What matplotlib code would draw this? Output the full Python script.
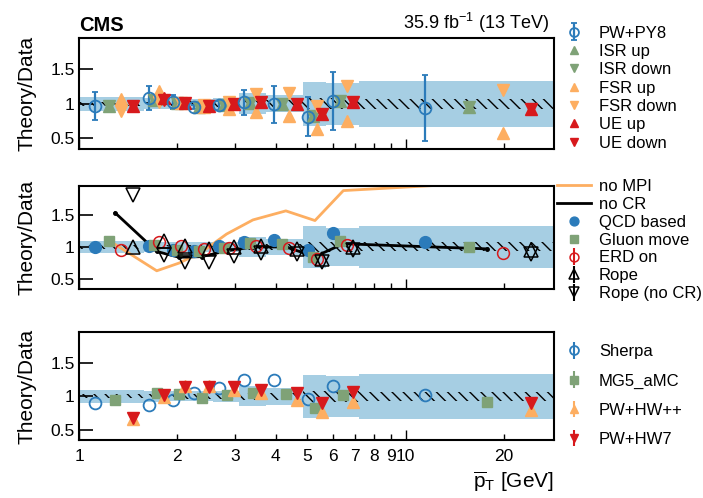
import numpy as np
import matplotlib
matplotlib.use("Agg")
import matplotlib.pyplot as plt
from matplotlib.ticker import FixedLocator, NullFormatter, FixedFormatter

plt.rcParams['font.family'] = ['Liberation Sans', 'DejaVu Sans']
plt.rcParams['mathtext.fontset'] = 'custom'
plt.rcParams['mathtext.rm'] = 'Liberation Sans'
plt.rcParams['mathtext.it'] = 'Liberation Sans:italic'
plt.rcParams['hatch.linewidth'] = 1.0

# bins of average pT [GeV]
edges = [1.0, 1.58, 1.88, 2.17, 2.58, 3.08, 3.74, 4.86, 5.7, 7.2, 28.4]
syst = [0.10, 0.08, 0.075, 0.075, 0.08, 0.15, 0.125, 0.32, 0.30, 0.33]
stat = [0.03, 0.03, 0.035, 0.035, 0.04, 0.05, 0.05, 0.08, 0.08, 0.07]

# top panel
pwpy8 = [0.966, 1.085, 1.02, 0.957, 0.976, 1.02, 0.99, 0.815, 1.04, 0.94]
pwpy8_err = [0.20, 0.17, 0.10, 0.03, 0.06, 0.185, 0.27, 0.28, 0.42, 0.48]
isr_up = [0.97, 1.06, 1.015, 0.957, 0.98, 1.015, 1.0, 0.82, 1.04, 0.955]
isr_down = [0.97, 1.06, 1.015, 0.957, 0.98, 1.015, 1.0, 0.82, 1.04, 0.955]
fsr_up = [1.065, 1.19, 1.015, 0.96, 0.93, 0.875, 0.824, 0.64, 0.75, 0.585]
fsr_down = [0.895, 1.02, 1.015, 0.98, 1.03, 1.14, 1.157, 0.975, 1.26, 1.20]
ue_up = [0.965, 1.08, 1.015, 0.965, 0.99, 1.02, 0.99, 0.85, 1.02, 0.93]
ue_down = [0.965, 1.05, 1.015, 0.965, 0.99, 1.02, 0.99, 0.85, 1.02, 0.93]

# middle panel
nompi = [1.04, 0.63, 0.75, 0.92, 1.2, 1.42, 1.56, 1.41, 1.875, 2.0]
nocr = [1.53, 0.93, 0.84, 0.85, 0.94, 1.0, 1.0, 0.85, 1.05, 0.97]
qcd = [1.0, 1.02, 0.96, 0.94, 1.01, 1.08, 1.11, 0.95, 1.22, 1.08]
gluon = [1.10, 1.03, 0.95, 0.945, 0.99, 1.06, 1.05, 0.85, 1.09, 0.995]
erd = [0.96, 1.08, 1.02, 0.975, 0.99, 1.02, 0.985, 0.81, 1.03, 0.91]
rope = [1.0, 1.09, 1.01, 0.97, 1.0, 1.02, 0.97, 0.82, 1.0, 0.95]
rope_nocr = [1.81, 0.87, 0.76, 0.77, 0.86, 0.9, 0.89, 0.77, 0.96, 0.89]

# bottom panel
sherpa = [0.90, 0.87, 0.94, 1.05, 1.13, 1.245, 1.235, 0.955, 1.15, 1.027]
mg5 = [0.945, 1.05, 1.03, 0.98, 1.02, 1.05, 1.04, 0.825, 1.02, 0.92]
hwpp = [0.66, 0.99, 1.15, 1.16, 1.10, 1.045, 0.945, 0.775, 0.92, 0.80]
hw7 = [0.68, 1.02, 1.14, 1.14, 1.14, 1.10, 1.05, 0.905, 1.065, 0.90]

xticks_minor = [2, 3, 4, 5, 6, 7, 8, 9, 20]

BLUE = '#2b7bba'
BAND = '#a6cee3'
GREEN = '#7fa277'
ORANGE = '#fdae61'
RED = '#d7191c'

lo = np.array(edges[:-1])
w = np.diff(edges)


def pos(k):
    # marker positions inside each bin, spread linearly
    return lo + k * w / 5.0


def banda(ax):
    e = np.array(edges)
    s = np.append(syst, syst[-1])
    st = np.append(stat, stat[-1])
    ax.fill_between(e, 1 - s, 1 + s, step='post', color=BAND, lw=0, zorder=0)
    ax.fill_between(e, 1 - st, 1 + st, step='post', facecolor='none',
                    edgecolor='black', hatch='\\\\\\', lw=0, zorder=1)


def ejes(ax, etiquetas=False):
    ax.set_xscale('log')
    ax.set_xlim(1.0, 28.4)
    ax.set_ylim(0.35, 1.95)
    ax.xaxis.set_major_locator(FixedLocator([1, 10]))
    ax.xaxis.set_minor_locator(FixedLocator(xticks_minor))
    if etiquetas:
        ax.xaxis.set_major_formatter(FixedFormatter(['1', '10']))
        ax.xaxis.set_minor_formatter(FixedFormatter([str(v) for v in xticks_minor]))
    else:
        ax.xaxis.set_major_formatter(NullFormatter())
        ax.xaxis.set_minor_formatter(NullFormatter())
    ax.set_yticks([0.5, 1, 1.5])
    ax.set_yticklabels(['0.5', '1', '1.5'])
    ax.tick_params(axis='y', which='major', direction='in', length=10, width=1.2, labelsize=12.5, pad=3)
    ax.tick_params(axis='x', which='major', direction='in', length=7, width=1, labelsize=12.5, pad=6)
    ax.tick_params(axis='x', which='minor', direction='in', length=4, width=1, labelsize=12.5, pad=6)
    for sp in ax.spines.values():
        sp.set_linewidth(1.5)
    ax.set_ylabel('Theory/Data', fontsize=15, labelpad=10)
    banda(ax)


def leyenda(ax, y, sep, orden=None):
    h, l = ax.get_legend_handles_labels()
    if orden is not None:
        h = [h[i] for i in orden]
        l = [l[i] for i in orden]
    ax.legend(h, l, loc='upper left', bbox_to_anchor=(0.994, y), frameon=False, fontsize=12,
              labelspacing=sep, handlelength=2.0, handletextpad=0.5, borderaxespad=0,
              markerscale=0.75)


fig = plt.figure(figsize=(7.03, 4.98), dpi=100)
ax1 = fig.add_axes([0.1124, 0.701, 0.675, 0.223])
ax2 = fig.add_axes([0.1124, 0.420, 0.675, 0.207])
ax3 = fig.add_axes([0.1124, 0.116, 0.675, 0.217])

ms = 8.5

# top
ejes(ax1)
ax1.errorbar(pos(1), pwpy8, yerr=pwpy8_err, fmt='o', color=BLUE, mfc='none', mew=1.3,
             ms=ms, elinewidth=1.6, capsize=2.5, capthick=1.6, label='PW+PY8', zorder=3)
ax1.plot(pos(2), isr_up, '^', color=GREEN, ms=ms, ls='none', label='ISR up', zorder=3)
ax1.plot(pos(2), isr_down, 'v', color=GREEN, ms=ms, ls='none', label='ISR down', zorder=3)
ax1.plot(pos(3), fsr_up, '^', color=ORANGE, ms=ms, ls='none', label='FSR up', zorder=3)
ax1.plot(pos(3), fsr_down, 'v', color=ORANGE, ms=ms, ls='none', label='FSR down', zorder=3)
ax1.plot(pos(4), ue_up, '^', color=RED, ms=ms, ls='none', label='UE up', zorder=3)
ax1.plot(pos(4), ue_down, 'v', color=RED, ms=ms, ls='none', label='UE down', zorder=3)
leyenda(ax1, 1.17, 0.2, orden=[6, 0, 1, 2, 3, 4, 5])

ax1.text(0.0, 1.03, 'CMS', transform=ax1.transAxes, fontsize=14.5, fontweight='bold',
         ha='left', va='bottom')
ax1.text(0.99, 1.03, '35.9 fb$^{-1}$ (13 TeV)', transform=ax1.transAxes, fontsize=13,
         ha='right', va='bottom')

# middle
ejes(ax2)
ax2.plot(pos(2.5), nompi, '-', color=ORANGE, lw=2, label='no MPI', zorder=2)
ax2.plot(pos(2.5), nocr, '-', color='black', lw=2, label='no CR', zorder=2)
ax2.plot(pos(2.5), nocr, 'o', color='black', ms=2.5, zorder=2)
ax2.plot(pos(1), qcd, 'o', color=BLUE, ms=ms, ls='none', label='QCD based', zorder=3)
ax2.plot(pos(2), gluon, 's', color=GREEN, ms=ms - 1, ls='none', label='Gluon move', zorder=3)
ax2.errorbar(pos(3), erd, yerr=np.zeros(len(erd)), fmt='o', color=RED, mfc='none', mew=1.1,
             ms=ms, label='ERD on', zorder=4)
ax2.errorbar(pos(4), rope, yerr=np.zeros(len(rope)), fmt='^', color='black', mfc='none',
             mew=1.1, ms=ms + 1, label='Rope', zorder=4)
ax2.errorbar(pos(4), rope_nocr, yerr=np.zeros(len(rope_nocr)), fmt='v', color='black',
             mfc='none', mew=1.1, ms=ms + 1, label='Rope (no CR)', zorder=4)
leyenda(ax2, 1.13, 0.17)

# bottom
ejes(ax3, etiquetas=True)
ax3.errorbar(pos(1), sherpa, yerr=np.zeros(len(sherpa)), fmt='o', color=BLUE, mfc='none',
             mew=1.3, ms=ms, label='Sherpa', zorder=3)
ax3.errorbar(pos(2.5), mg5, yerr=np.zeros(len(mg5)), fmt='s', color=GREEN, ms=ms - 1,
             label='MG5_aMC', zorder=3)
ax3.errorbar(pos(4), hwpp, yerr=np.zeros(len(hwpp)), fmt='^', color=ORANGE, ms=ms,
             label='PW+HW++', zorder=3)
ax3.errorbar(pos(4), hw7, yerr=np.zeros(len(hw7)), fmt='v', color=RED, ms=ms,
             label='PW+HW7', zorder=4)
leyenda(ax3, 0.95, 0.85)
ax3.set_xlabel(r'$\overline{\mathrm{p}}_\mathrm{T}$ [GeV]', fontsize=15, loc='right', labelpad=4)

fig.savefig('out.png', dpi=100)
